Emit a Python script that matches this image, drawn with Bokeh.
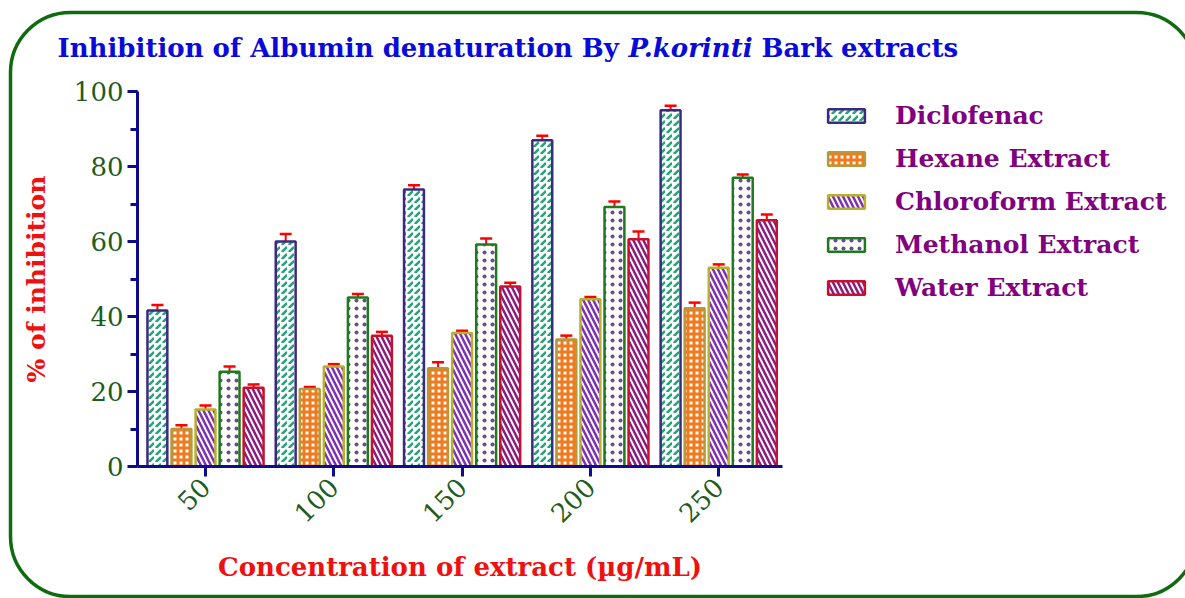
import numpy as np
from math import pi
from bokeh.plotting import figure
from bokeh.models import (ColumnDataSource, Range1d, FixedTicker, SingleIntervalTicker,
                          Whisker, TeeHead, Legend, LegendItem, Label, BoxAnnotation)
from bokeh.embed import file_html
from bokeh.resources import INLINE

# ---------------- data ----------------
concentrations = ["50", "100", "150", "200", "250"]
series_names = ["Diclofenac", "Hexane Extract", "Chloroform Extract",
                "Methanol Extract", "Water Extract"]
diclofenac = [41.6, 60.0, 73.9, 87.0, 95.0]
diclofenac_err = [1.5, 2.0, 1.1, 1.2, 1.2]
hexane = [10.0, 20.7, 26.2, 33.9, 42.2]
hexane_err = [1.0, 0.5, 1.6, 1.0, 1.5]
chloroform = [15.2, 26.7, 35.6, 44.6, 53.0]
chloroform_err = [1.1, 0.6, 0.6, 0.6, 0.9]
methanol = [25.3, 45.1, 59.2, 69.2, 77.0]
methanol_err = [1.4, 0.9, 1.6, 1.5, 0.9]
water = [21.0, 34.9, 48.0, 60.6, 65.7]
water_err = [0.9, 1.0, 1.0, 2.1, 1.5]
y_min, y_max, y_step = 0, 100, 20

series_values = [diclofenac, hexane, chloroform, methanol, water]
series_errors = [diclofenac_err, hexane_err, chloroform_err, methanol_err, water_err]

# ---------------- layout geometry (pixels) ----------------
W, H = 1185, 598
AX_LEFT, AX_RIGHT = 137, 782      # x-axis extent on canvas
AX_TOP, AX_BOTTOM = 91, 466       # y=100 and y=0 on canvas
G1_PX, G_SPACING = 205, 128.3     # first group centre, group spacing

def x_of(px):
    return 1 + (px - G1_PX) / G_SPACING

y_per_px = (y_max - y_min) / (AX_BOTTOM - AX_TOP)
def y_of(py):
    return y_min + (AX_BOTTOM - py) * y_per_px

# ---------------- styles ----------------
offsets = [-0.375, -0.1875, 0.0, 0.1875, 0.375]
bar_width = 0.155
styles = [
    dict(line_color="#3b2a80", hatch_color="#25a37a", hatch_pattern="right_diagonal_dash",
         hatch_scale=7, hatch_weight=2.5),
    dict(line_color="#b39a3a", hatch_color="#f07a1e", hatch_pattern="cross",
         hatch_scale=6, hatch_weight=3),
    dict(line_color="#b9b12c", hatch_color="#7f2fb0", hatch_pattern="left_diagonal_line",
         hatch_scale=10, hatch_weight=2.5),
    dict(line_color="#1f7a1f", hatch_color="#6a4a8a", hatch_pattern="dot",
         hatch_scale=8, hatch_weight=0.8),
    dict(line_color="#c8102e", hatch_color="#8c1a80", hatch_pattern="left_diagonal_line",
         hatch_scale=10, hatch_weight=2.5),
]

SERIF = "DejaVu Serif"
AXIS_COLOR = "#0c0c8c"

p = figure(width=W, height=H,
           x_range=Range1d(x_of(0), x_of(W)), y_range=Range1d(y_of(H), y_of(0)),
           output_backend="svg", toolbar_location=None,
           min_border=0)
p.outline_line_color = None
p.xgrid.grid_line_color = None
p.ygrid.grid_line_color = None
p.background_fill_color = "white"
p.border_fill_color = "white"

group_x = np.arange(1, len(concentrations) + 1)
renderers = []
for vals, errs, off, st in zip(series_values, series_errors, offsets, styles):
    vals = np.array(vals)
    errs = np.array(errs)
    src = ColumnDataSource(dict(x=group_x + off, top=vals, upper=vals + errs))
    r = p.vbar(x="x", top="top", bottom=0, width=bar_width, source=src,
               fill_color="white", line_width=2.5, **st)
    renderers.append(r)
    wh = Whisker(base="x", lower="top", upper="upper", source=src,
                 line_color="red", line_width=2,
                 upper_head=TeeHead(size=12, line_color="red", line_width=2.5),
                 lower_head=None)
    p.add_layout(wh)

# ---------------- axes (fixed inside the canvas) ----------------
yax = p.yaxis[0]
yax.ticker = SingleIntervalTicker(interval=y_step, num_minor_ticks=2)
yax.fixed_location = x_of(AX_LEFT)
yax.bounds = (y_min, y_max)
xax = p.xaxis[0]
xax.ticker = FixedTicker(ticks=list(group_x))
xax.major_label_overrides = {int(i): c for i, c in zip(group_x, concentrations)}
xax.major_label_orientation = pi / 4
xax.fixed_location = y_min
xax.bounds = (x_of(AX_LEFT), x_of(AX_RIGHT))

for ax in (xax, yax):
    ax.axis_line_color = AXIS_COLOR
    ax.axis_line_width = 3
    ax.major_tick_line_color = AXIS_COLOR
    ax.major_tick_line_width = 3
    ax.major_tick_out = 10
    ax.major_tick_in = 0
    ax.minor_tick_line_color = AXIS_COLOR
    ax.minor_tick_line_width = 3
    ax.minor_tick_out = 7
    ax.minor_tick_in = 0
    ax.major_label_text_font = SERIF
    ax.major_label_text_font_size = "26px"
    ax.major_label_text_color = "#1e5c1e"
    ax.axis_label_text_font = SERIF
    ax.axis_label_text_font_style = "bold"
    ax.axis_label_text_color = "#ee1111"

yax.axis_label = "% of inhibition"
yax.axis_label_text_font_size = "25px"
yax.major_label_standoff = 4
yax.axis_label_standoff = 20
xax.axis_label = "Concentration of extract (µg/mL)"
xax.axis_label_text_font_size = "26px"
xax.major_label_standoff = 6
xax.axis_label_standoff = 18

# ---------------- legend ----------------
legend = Legend(items=[LegendItem(label=n, renderers=[r]) for n, r in zip(series_names, renderers)],
                location=(823, 296), padding=0, margin=0, spacing=13,
                glyph_width=46, glyph_height=17, label_height=30, label_standoff=26,
                border_line_color=None, background_fill_alpha=0,
                label_text_font=SERIF, label_text_font_style="bold",
                label_text_font_size="25px", label_text_color="#800080")
p.add_layout(legend)

# ---------------- title (mixed styles) ----------------
TITLE_COLOR = "#0a0ad8"
title_parts = [("Inhibition of Albumin denaturation By ", "bold", 57),
               ("P.korinti", "bold italic", 628),
               ("Bark extracts", "bold", 761)]
for txt, style, xpos in title_parts:
    p.add_layout(Label(x=xpos, y=H - 47, x_units="screen", y_units="screen", text=txt,
                       text_font=SERIF, text_font_style=style, text_font_size="26px",
                       text_color=TITLE_COLOR, text_baseline="middle", text_align="left"))

# ---------------- rounded frame ----------------
p.add_layout(BoxAnnotation(left=10, right=1196, top=H - 12, bottom=H - 596,
                           left_units="screen", right_units="screen",
                           top_units="screen", bottom_units="screen",
                           fill_color=None, line_color="#0e6b0e", line_alpha=1.0,
                           line_width=3.5, border_radius=60, level="overlay"))

open("out.html", "w").write(file_html(p, INLINE))
